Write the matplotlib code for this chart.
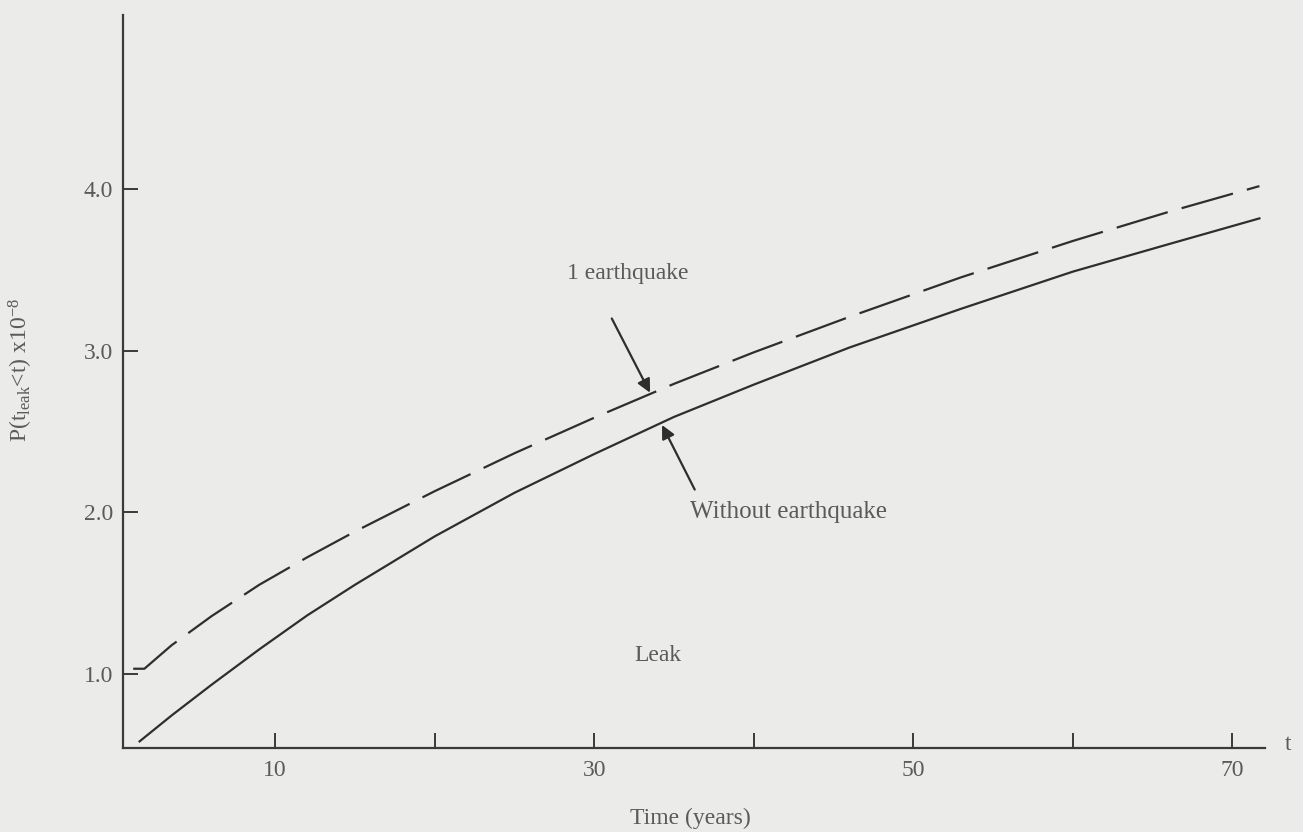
import numpy as np
import matplotlib.pyplot as plt

plt.rcParams['font.family'] = ['Liberation Serif', 'DejaVu Serif']
plt.rcParams['mathtext.fontset'] = 'custom'
plt.rcParams['mathtext.rm'] = 'Liberation Serif'
plt.rcParams['mathtext.it'] = 'Liberation Serif:italic'

# values
t_quake = [1.1, 1.8, 3.5, 6, 9, 12, 15, 20, 25, 30, 35, 40, 46, 53, 60, 66, 71.7]
p_quake = [1.03, 1.03, 1.175, 1.355, 1.55, 1.72, 1.88, 2.13, 2.365, 2.585, 2.795,
           2.99, 3.21, 3.455, 3.68, 3.86, 4.02]

t_none = [1.5, 3.5, 6, 9, 12, 15, 20, 25, 30, 35, 40, 46, 53, 60, 66, 71.7]
p_none = [0.58, 0.74, 0.93, 1.15, 1.36, 1.55, 1.85, 2.12, 2.36, 2.59, 2.79,
          3.02, 3.26, 3.49, 3.66, 3.82]

xticks = [10, 20, 30, 40, 50, 60, 70]
xlabels = ['10', '', '30', '', '50', '', '70']
yticks = [1, 2, 3, 4]
ylabels = ['1.0', '2.0', '3.0', '4.0']

bg = '#ebebe9'
ink = '#2e2e2e'
txt = '#5a5a5a'

fig = plt.figure(figsize=(13.03, 8.32), dpi=100, facecolor=bg)
ax = fig.add_axes([123 / 1303, 84 / 832, 1142 / 1303, 733 / 832])
ax.set_facecolor(bg)

ax.plot(t_quake, p_quake, color=ink, lw=1.6, linestyle=(0, (24, 6.5)))
ax.plot(t_none, p_none, color=ink, lw=1.6)

ax.set_xlim(0.46, 72.05)
ax.set_ylim(0.539, 5.08)

for s in ['top', 'right']:
    ax.spines[s].set_visible(False)
for s in ['left', 'bottom']:
    ax.spines[s].set_color('#3a3a3a')
    ax.spines[s].set_linewidth(1.6)

ax.set_xticks(xticks)
ax.set_xticklabels(xlabels)
ax.set_yticks(yticks)
ax.set_yticklabels(ylabels)
ax.tick_params(direction='in', length=11, width=1.4, color='#3a3a3a',
               labelsize=17, labelcolor=txt)
ax.tick_params(axis='x', pad=9)
ax.tick_params(axis='y', pad=7)

ax.set_ylabel(r'P(t$_{\rm leak}$<t) x10$^{-8}$', fontsize=17, color=txt)
ax.yaxis.set_label_coords(-0.077, 0.516)
fig.text(690 / 1303, 1 - 818 / 832, 'Time (years)', ha='center', va='center',
         fontsize=17, color=txt)
fig.text(1288 / 1303, 1 - 745 / 832, 't', ha='center', va='center',
         fontsize=17, color=txt)

ax.text(32.1, 3.48, '1 earthquake', ha='center', va='center', fontsize=17, color=txt)
ax.annotate('', xy=(33.5, 2.74), xytext=(31.1, 3.20),
            arrowprops=dict(arrowstyle='-|>', color=ink, lw=1.6,
                            mutation_scale=20, shrinkA=0, shrinkB=0))
ax.text(36.0, 2.0, 'Without earthquake', ha='left', va='center', fontsize=18, color=txt)
ax.annotate('', xy=(34.25, 2.54), xytext=(36.3, 2.14),
            arrowprops=dict(arrowstyle='-|>', color=ink, lw=1.6,
                            mutation_scale=20, shrinkA=0, shrinkB=0))
ax.text(34.0, 1.11, 'Leak', ha='center', va='center', fontsize=17, color=txt)

fig.savefig('out.png', dpi=100, facecolor=bg)
